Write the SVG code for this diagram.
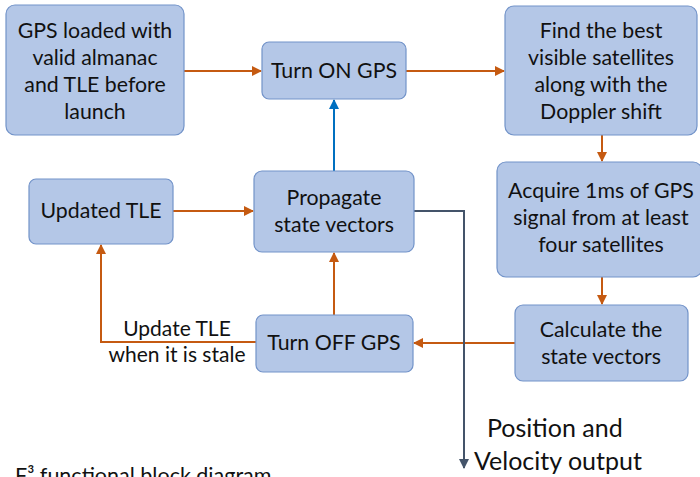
<svg xmlns="http://www.w3.org/2000/svg" width="700" height="477" viewBox="0 0 700 477">
<style>
.box{fill:#b4c7e7;stroke:#7293c9;stroke-width:1.2}
.t{font-family:Lato,"Open Sans",sans-serif;font-size:21.3px;fill:#111;text-anchor:middle}
.o{fill:none;stroke:#c55a11;stroke-width:2}
.b{fill:none;stroke:#0070c0;stroke-width:2}
.g{fill:none;stroke:#44546a;stroke-width:2}
.lab{font-family:Lato,"Open Sans",sans-serif;font-size:21px;fill:#111;text-anchor:middle}
.out{font-family:Lato,"Open Sans",sans-serif;font-size:25px;fill:#111}
</style>
<defs>
<marker id="ao" viewBox="0 0 10 10" refX="9" refY="5" markerWidth="5" markerHeight="5" orient="auto"><path d="M0,0L10,5L0,10z" fill="#c55a11"/></marker>
<marker id="ab" viewBox="0 0 10 10" refX="9" refY="5" markerWidth="5" markerHeight="5" orient="auto"><path d="M0,0L10,5L0,10z" fill="#0070c0"/></marker>
<marker id="ag" viewBox="0 0 10 10" refX="9" refY="5" markerWidth="5" markerHeight="5" orient="auto"><path d="M0,0L10,5L0,10z" fill="#44546a"/></marker>
</defs>
<g id="connectors">
<path class="o" d="M184,71H261" marker-end="url(#ao)"/>
<path class="o" d="M406,71H504" marker-end="url(#ao)"/>
<path class="o" d="M602,135V161" marker-end="url(#ao)"/>
<path class="o" d="M602,277V304" marker-end="url(#ao)"/>
<path class="o" d="M515,343H414" marker-end="url(#ao)"/>
<path class="o" d="M334,315V253" marker-end="url(#ao)"/>
<path class="o" d="M256,342H101V245" marker-end="url(#ao)"/>
<path class="o" d="M173,211H253" marker-end="url(#ao)"/>
<path class="b" d="M334,171V100" marker-end="url(#ab)"/>
<path class="g" d="M414,211H464V468" marker-end="url(#ag)"/>
</g>
<g id="n1"><rect class="box" x="6" y="5" width="178" height="130" rx="9"/>
<text class="t" x="95" y="38">GPS loaded with</text><text class="t" x="95" y="65">valid almanac</text><text class="t" x="95" y="92">and TLE before</text><text class="t" x="95" y="119">launch</text></g>
<g id="n2"><rect class="box" x="262" y="42" width="144" height="57" rx="7"/>
<text class="t" x="334" y="78">Turn ON GPS</text></g>
<g id="n3"><rect class="box" x="505" y="6" width="192" height="129" rx="9"/>
<text class="t" x="601" y="38">Find the best</text><text class="t" x="601" y="65">visible satellites</text><text class="t" x="601" y="92">along with the</text><text class="t" x="601" y="119">Doppler shift</text></g>
<g id="n4"><rect class="box" x="497" y="162" width="205" height="115" rx="9"/>
<text class="t" x="601" y="198">Acquire 1ms of GPS</text><text class="t" x="601" y="225">signal from at least</text><text class="t" x="601" y="252">four satellites</text></g>
<g id="n5"><rect class="box" x="515" y="305" width="173" height="76" rx="8"/>
<text class="t" x="601" y="337">Calculate the</text><text class="t" x="601" y="364">state vectors</text></g>
<g id="n6"><rect class="box" x="256" y="315" width="157" height="57" rx="7"/>
<text class="t" x="334" y="350">Turn OFF GPS</text></g>
<g id="n7"><rect class="box" x="254" y="171" width="160" height="81" rx="8"/>
<text class="t" x="334" y="205">Propagate</text><text class="t" x="334" y="232">state vectors</text></g>
<g id="n8"><rect class="box" x="29" y="179" width="144" height="65" rx="7"/>
<text class="t" x="101" y="218">Updated TLE</text></g>
<text class="lab" x="177" y="336">Update TLE</text>
<text class="lab" x="177" y="362">when it is stale</text>
<text class="out" x="487" y="437">Position and</text>
<text class="out" x="474" y="470">Velocity output</text>
<text x="15" y="483" style="font-family:Lato,'Open Sans',sans-serif;font-size:21.5px;fill:#111">F³ functional block diagram</text>
</svg>
